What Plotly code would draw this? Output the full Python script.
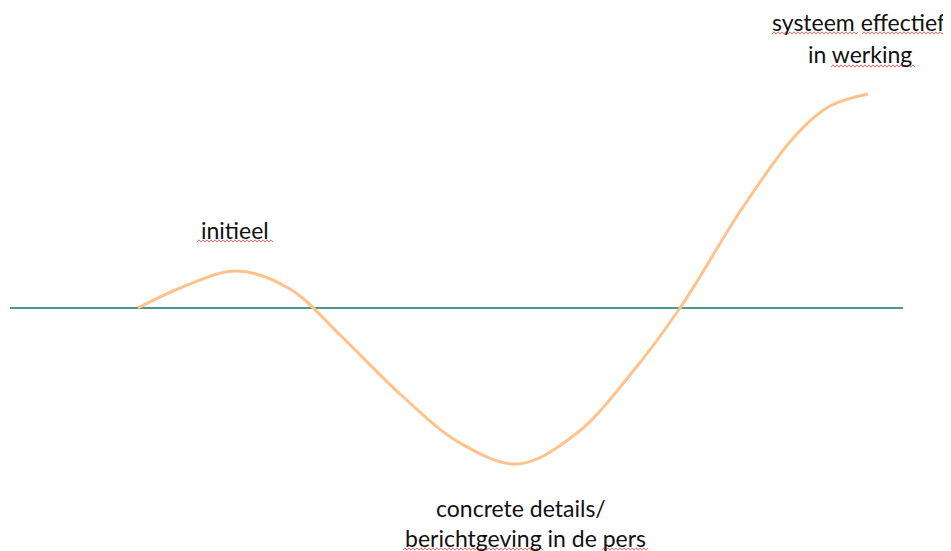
import plotly.graph_objects as go

# schematic curve (x position, level relative to the baseline)
curve_x = [138, 185, 237, 290, 340, 400, 460, 518, 577, 630, 680, 743, 795, 830, 868]
curve_y = [0, 22, 37, 19, -27, -86, -135, -156, -125, -67, 0, 101, 172, 202, 214]

baseline_x = [10, 903]
baseline_y = [0, 0]

label_lines = ["systeem effectief", "in werking", "initieel",
               "concrete details/", "berichtgeving in de pers"]
label_x = [858, 860, 235, 521, 525]
label_y = [286, 254, 78, -200, -230]

# spell-check squiggles under words (x0, x1, level)
squiggles = [(772, 858, 275), (862, 947, 275), (831, 915, 242), (197, 274, 67),
             (403, 543, -241), (602, 648, -241)]

fig = go.Figure()
fig.add_trace(go.Scatter(x=baseline_x, y=baseline_y, mode="lines",
                         line=dict(color="#4E9791", width=2), hoverinfo="skip"))
fig.add_trace(go.Scatter(x=curve_x, y=curve_y, mode="lines",
                         line=dict(color="#FFC28C", width=3, shape="spline", smoothing=1.0),
                         hoverinfo="skip"))

for t, x, y in zip(label_lines, label_x, label_y):
    fig.add_annotation(x=x, y=y, text=t, showarrow=False, xanchor="center", yanchor="middle",
                       font=dict(family="Lato", size=23, color="#111111"))

for x0, x1, yl in squiggles:
    pts = []
    x = x0
    k = 0
    while x <= x1:
        pts.append(f"{x},{yl + (1.2 if k % 2 else -1.2)}")
        x += 2
        k += 1
    path = "M " + " L ".join(pts)
    fig.add_shape(type="path", path=path, xref="x", yref="y",
                  line=dict(color="#E86A6A", width=1))

fig.update_layout(
    width=943, height=543, margin=dict(l=0, r=0, t=0, b=0),
    paper_bgcolor="white", plot_bgcolor="white", showlegend=False,
    xaxis=dict(range=[8, 951], visible=False, fixedrange=True),
    yaxis=dict(range=[-243, 300], visible=False, fixedrange=True),
)
fig.write_html("out.html")
